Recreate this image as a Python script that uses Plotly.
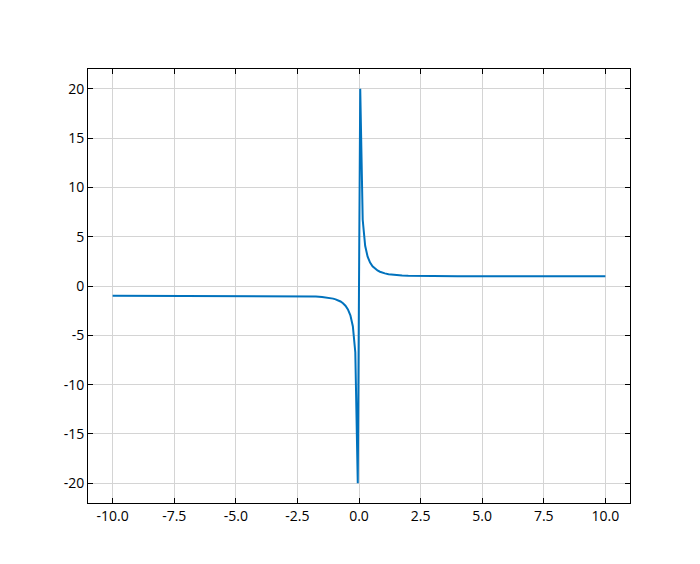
import plotly.graph_objects as go

x_vals = [-10, -7.5, -5, -4, -3, -2.5, -2.25, -2, -1.75, -1.5, -1.35, -1.2, -1.05, -0.95,
          -0.85, -0.75, -0.65, -0.55, -0.45, -0.35, -0.25, -0.15, -0.05,
          0.05, 0.15, 0.25, 0.35, 0.45, 0.55, 0.65, 0.75, 0.85, 0.95, 1.05, 1.2, 1.35,
          1.5, 1.75, 2, 2.25, 2.5, 3, 4, 5, 7.5, 10]
y_vals = [-1.0, -1.0, -1.0, -1.001, -1.005, -1.013, -1.022, -1.037, -1.06, -1.105,
          -1.15, -1.2, -1.28, -1.35, -1.45, -1.57, -1.75, -2.0, -2.37, -2.97, -4.08,
          -6.72, -20.0,
          20.0, 6.72, 4.08, 2.97, 2.37, 2.0, 1.75, 1.57, 1.45, 1.35, 1.28, 1.2, 1.15,
          1.105, 1.06, 1.037, 1.022, 1.013, 1.005, 1.001, 1.0, 1.0, 1.0]

x_ticks = [-10, -7.5, -5, -2.5, 0, 2.5, 5, 7.5, 10]
x_labels = ["-10.0", "-7.5", "-5.0", "-2.5", "0.0", "2.5", "5.0", "7.5", "10.0"]
y_ticks = [-20, -15, -10, -5, 0, 5, 10, 15, 20]
y_labels = ["-20", "-15", "-10", "-5", "0", "5", "10", "15", "20"]

fig = go.Figure(go.Scatter(x=x_vals, y=y_vals, mode="lines",
                           line=dict(color="#0072BD", width=2)))

axis_common = dict(showline=True, linecolor="black", linewidth=1, mirror="allticks",
                   ticks="inside", ticklen=5, tickcolor="black", tickwidth=1,
                   showgrid=True, gridcolor="#d4d4d4", gridwidth=1, zeroline=False,
                   tickfont=dict(family="Open Sans", size=14, color="black"))

fig.update_layout(
    width=700, height=564,
    margin=dict(l=80, r=78, t=61, b=69),
    paper_bgcolor="white", plot_bgcolor="white",
    showlegend=False,
    xaxis=dict(range=[-11, 11], tickvals=x_ticks, ticktext=x_labels, **axis_common),
    yaxis=dict(range=[-22, 22], tickvals=y_ticks, ticktext=y_labels, **axis_common),
)

fig.write_html("out.html")
